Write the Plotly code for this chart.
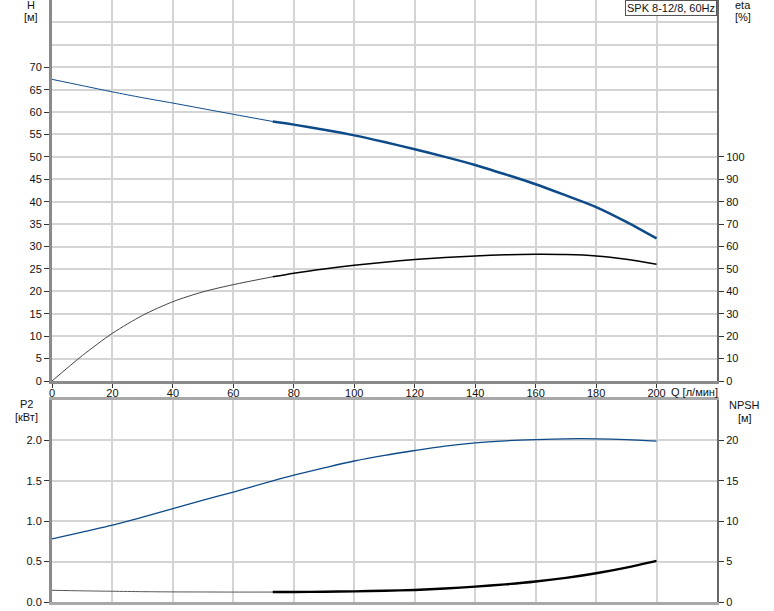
import plotly.graph_objects as go

# ---- data ----
Q = [0, 10, 20, 30, 40, 50, 60, 73, 80, 90, 100, 110, 120, 130, 140, 150, 160, 170, 180, 190, 200]
H = [67.3, 65.9, 64.5, 63.2, 62.0, 60.75, 59.5, 57.9, 57.2, 56.05, 54.8, 53.3, 51.7, 50.0, 48.2, 46.1, 43.9, 41.4, 38.8, 35.5, 31.8]
ETA = [0, 11.3, 21.3, 29.3, 35.4, 39.8, 43.0, 46.5, 48.1, 50.0, 51.6, 53.0, 54.2, 55.1, 55.8, 56.3, 56.5, 56.4, 55.8, 54.3, 52.1]
P2 = [0.78, 0.865, 0.95, 1.05, 1.155, 1.26, 1.36, 1.50, 1.57, 1.66, 1.745, 1.815, 1.875, 1.93, 1.97, 1.995, 2.01, 2.02, 2.02, 2.01, 1.99]
NPSH = [1.45, 1.38, 1.33, 1.28, 1.25, 1.24, 1.23, 1.23, 1.24, 1.27, 1.32, 1.39, 1.49, 1.67, 1.9, 2.18, 2.53, 2.98, 3.56, 4.26, 5.09]
Q_DUTY_START = 73  # start of the bold (recommended) range

x_ticks = [0, 20, 40, 60, 80, 100, 120, 140, 160, 180, 200]
h_ticks = [0, 5, 10, 15, 20, 25, 30, 35, 40, 45, 50, 55, 60, 65, 70]
eta_ticks = [0, 10, 20, 30, 40, 50, 60, 70, 80, 90, 100]
p2_ticks = [0, 0.5, 1.0, 1.5, 2.0]
npsh_ticks = [0, 5, 10, 15, 20]
title_text = "SPK 8-12/8, 60Hz"

# ---- layout geometry ----
W, HGT = 774, 611
L, R, T, B = 52, 717, 0, 602
def px_x(x):
    return (x - L) / (R - L)
def px_y(y):
    return (B - y) / (B - T)

top_dom = [px_y(381), 1.0]
bot_dom = [0.0, px_y(400)]

k = Q.index(Q_DUTY_START)
BLUE = "#0d4a8a"
FONT = "Liberation Sans, Arial, sans-serif"
GRID = "#d4d4d4"
AXC = "#8a8a8a"
SM = 0.8

fig = go.Figure()
# H curve
fig.add_trace(go.Scatter(x=Q[:k + 1], y=H[:k + 1], mode="lines", line=dict(color=BLUE, width=1, shape="spline", smoothing=SM),
                         xaxis="x", yaxis="y", showlegend=False, hoverinfo="skip"))
fig.add_trace(go.Scatter(x=Q[k:], y=H[k:], mode="lines", line=dict(color=BLUE, width=2.5, shape="spline", smoothing=SM),
                         xaxis="x", yaxis="y", showlegend=False))
# eta curve
fig.add_trace(go.Scatter(x=Q[:k + 1], y=ETA[:k + 1], mode="lines", line=dict(color="#444444", width=1, shape="spline", smoothing=SM),
                         xaxis="x", yaxis="y2", showlegend=False, hoverinfo="skip"))
fig.add_trace(go.Scatter(x=Q[k:], y=ETA[k:], mode="lines", line=dict(color="#000000", width=1.5, shape="spline", smoothing=SM),
                         xaxis="x", yaxis="y2", showlegend=False))
# P2 curve
fig.add_trace(go.Scatter(x=Q, y=P2, mode="lines", line=dict(color=BLUE, width=1.3, shape="spline", smoothing=SM),
                         xaxis="x2", yaxis="y3", showlegend=False))
# NPSH curve
fig.add_trace(go.Scatter(x=Q[:k + 1], y=NPSH[:k + 1], mode="lines", line=dict(color="#555555", width=1, shape="spline", smoothing=SM),
                         xaxis="x2", yaxis="y4", showlegend=False, hoverinfo="skip"))
fig.add_trace(go.Scatter(x=Q[k:], y=NPSH[k:], mode="lines", line=dict(color="#000000", width=2.4, shape="spline", smoothing=SM),
                         xaxis="x2", yaxis="y4", showlegend=False))

tickfont = dict(family=FONT, size=11, color="#111111")

fig.update_layout(
    width=W, height=HGT,
    margin=dict(l=L, r=W - R, t=T, b=HGT - B),
    paper_bgcolor="white", plot_bgcolor="white",
    font=dict(family=FONT, size=11, color="#111111"),
    xaxis=dict(domain=[0, 1], anchor="y", range=[0, 220], tickmode="array", tickvals=x_ticks,
               showgrid=True, gridcolor=GRID, gridwidth=1.5, zeroline=False,
               showline=True, linecolor=AXC, linewidth=3, ticks="outside", ticklen=4, tickcolor="#333333",
               tickfont=tickfont, ticklabelstandoff=-4),
    yaxis=dict(domain=top_dom, anchor="x", range=[0, 85], tickmode="array", tickvals=h_ticks,
               showgrid=True, gridcolor=GRID, gridwidth=1.5, zeroline=False,
               minor=dict(tickmode="linear", tick0=0, dtick=5, showgrid=True, gridcolor=GRID, gridwidth=1.5),
               showline=True, linecolor=AXC, linewidth=3, ticks="outside", ticklen=5, tickcolor="#333333",
               tickfont=tickfont),
    yaxis2=dict(overlaying="y", anchor="x", side="right", range=[0, 170], tickmode="array", tickvals=eta_ticks,
                showgrid=False, zeroline=False, showline=True, linecolor="#666666", linewidth=2,
                ticks="outside", ticklen=5, tickcolor="#333333", tickfont=tickfont),
    xaxis2=dict(domain=[0, 1], anchor="y3", range=[0, 220], tickmode="array", tickvals=x_ticks,
                showticklabels=False, showgrid=True, gridcolor=GRID, gridwidth=1.5, zeroline=False,
                showline=True, mirror=True, linecolor="#a8a8a8", linewidth=3, ticks=""),
    yaxis3=dict(domain=bot_dom, anchor="x2", range=[0, 2.5], tickmode="array", tickvals=p2_ticks,
                tickformat=".1f", showgrid=True, gridcolor=GRID, gridwidth=1.5, zeroline=False,
                showline=True, linecolor=AXC, linewidth=3, ticks="outside", ticklen=5, tickcolor="#333333",
                tickfont=tickfont),
    yaxis4=dict(overlaying="y3", anchor="x2", side="right", range=[0, 25], tickmode="array", tickvals=npsh_ticks,
                showgrid=False, zeroline=False, showline=True, linecolor="#666666", linewidth=2,
                ticks="outside", ticklen=5, tickcolor="#333333", tickfont=tickfont),
)

def label(text, x, y, xanchor="center"):
    fig.add_annotation(text=text, xref="paper", yref="paper", x=px_x(x), y=px_y(y),
                       xanchor=xanchor, yanchor="middle", showarrow=False,
                       font=dict(family=FONT, size=11, color="#111111"))

label("H", 31, 5)
label("[м]", 31, 17)
label("eta", 743, 5)
label("[%]", 743, 17)
label("P2", 26, 404)
label("[кВт]", 26, 417)
label("NPSH", 745, 405)
label("[м]", 745, 418)
label("Q [л/мин]", 669, 392, xanchor="left")

fig.add_annotation(text=title_text, xref="paper", yref="paper", x=1, y=1, xanchor="right", yanchor="top",
                   showarrow=False, bgcolor="white", bordercolor="#555555", borderwidth=1, borderpad=1,
                   font=dict(family=FONT, size=11, color="#111111"))

fig.write_html("out.html", config={"displayModeBar": False},
               post_script="document.body.style.margin='0px';")
